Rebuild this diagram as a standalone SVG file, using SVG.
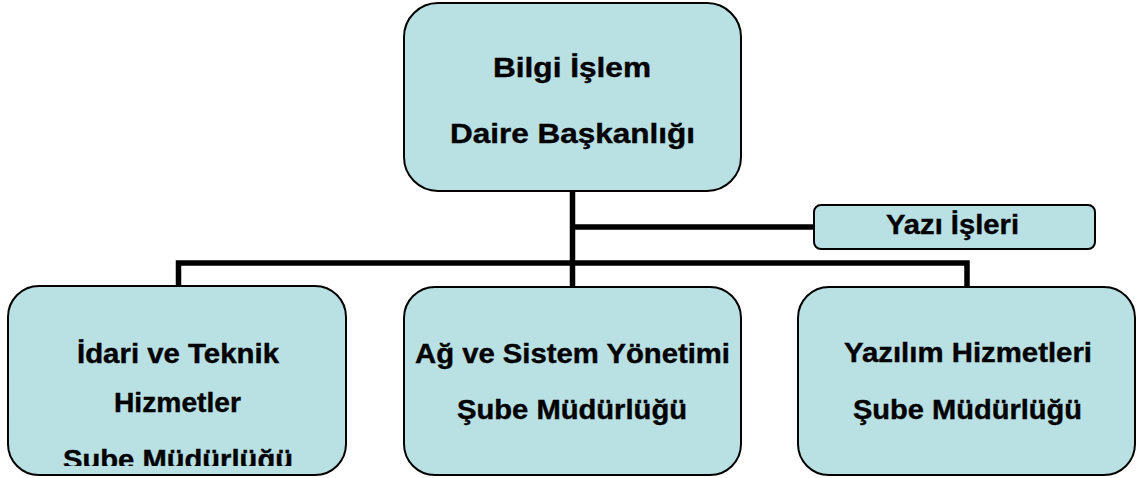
<svg xmlns="http://www.w3.org/2000/svg" width="1137" height="478" viewBox="0 0 1137 478">
<style>
.box{fill:#b9e0e3;stroke:#000;stroke-width:2}
.t{font-family:"Liberation Sans",Arial,sans-serif;font-weight:bold;font-size:27px;fill:#000;stroke:#000;stroke-width:0.4;text-anchor:middle}
.c{fill:none;stroke:#000;stroke-width:5.5;stroke-linecap:butt}
</style>
<defs>
<clipPath id="clipL"><rect x="0" y="280" width="360" height="186"/></clipPath>
</defs>
<rect width="1137" height="478" fill="#fff"/>
<g id="connectors">
<path class="c" d="M572.5 191 V287"/>
<path class="c" d="M572.5 227 H814"/>
<path class="c" d="M178.5 287 V263 H967 V287"/>
</g>
<g id="top">
<rect class="box" x="404" y="3" width="337" height="188" rx="34"/>
<text class="t" x="572" y="77" textLength="158" lengthAdjust="spacingAndGlyphs">Bilgi İşlem</text>
<text class="t" x="572.5" y="143" textLength="245" lengthAdjust="spacingAndGlyphs">Daire Başkanlığı</text>
</g>
<g id="yazi">
<rect class="box" x="814" y="205" width="281" height="44" rx="7"/>
<text class="t" x="952.5" y="234" textLength="133" lengthAdjust="spacingAndGlyphs">Yazı İşleri</text>
</g>
<g id="idari">
<rect class="box" x="8" y="286" width="338" height="189" rx="31"/>
<text class="t" x="178" y="363" textLength="202" lengthAdjust="spacingAndGlyphs">İdari ve Teknik</text>
<text class="t" x="177.5" y="412" textLength="127" lengthAdjust="spacingAndGlyphs">Hizmetler</text>
<text class="t" x="178" y="469" textLength="230" lengthAdjust="spacingAndGlyphs" clip-path="url(#clipL)">Şube Müdürlüğü</text>
</g>
<g id="ag">
<rect class="box" x="404" y="287" width="337" height="188" rx="31"/>
<text class="t" x="572.5" y="363" textLength="315" lengthAdjust="spacingAndGlyphs">Ağ ve Sistem Yönetimi</text>
<text class="t" x="572" y="419" textLength="230" lengthAdjust="spacingAndGlyphs">Şube Müdürlüğü</text>
</g>
<g id="yazilim">
<rect class="box" x="798" y="287" width="337" height="188" rx="31"/>
<text class="t" x="968" y="362" textLength="248" lengthAdjust="spacingAndGlyphs">Yazılım Hizmetleri</text>
<text class="t" x="967.5" y="419" textLength="229" lengthAdjust="spacingAndGlyphs">Şube Müdürlüğü</text>
</g>
</svg>
